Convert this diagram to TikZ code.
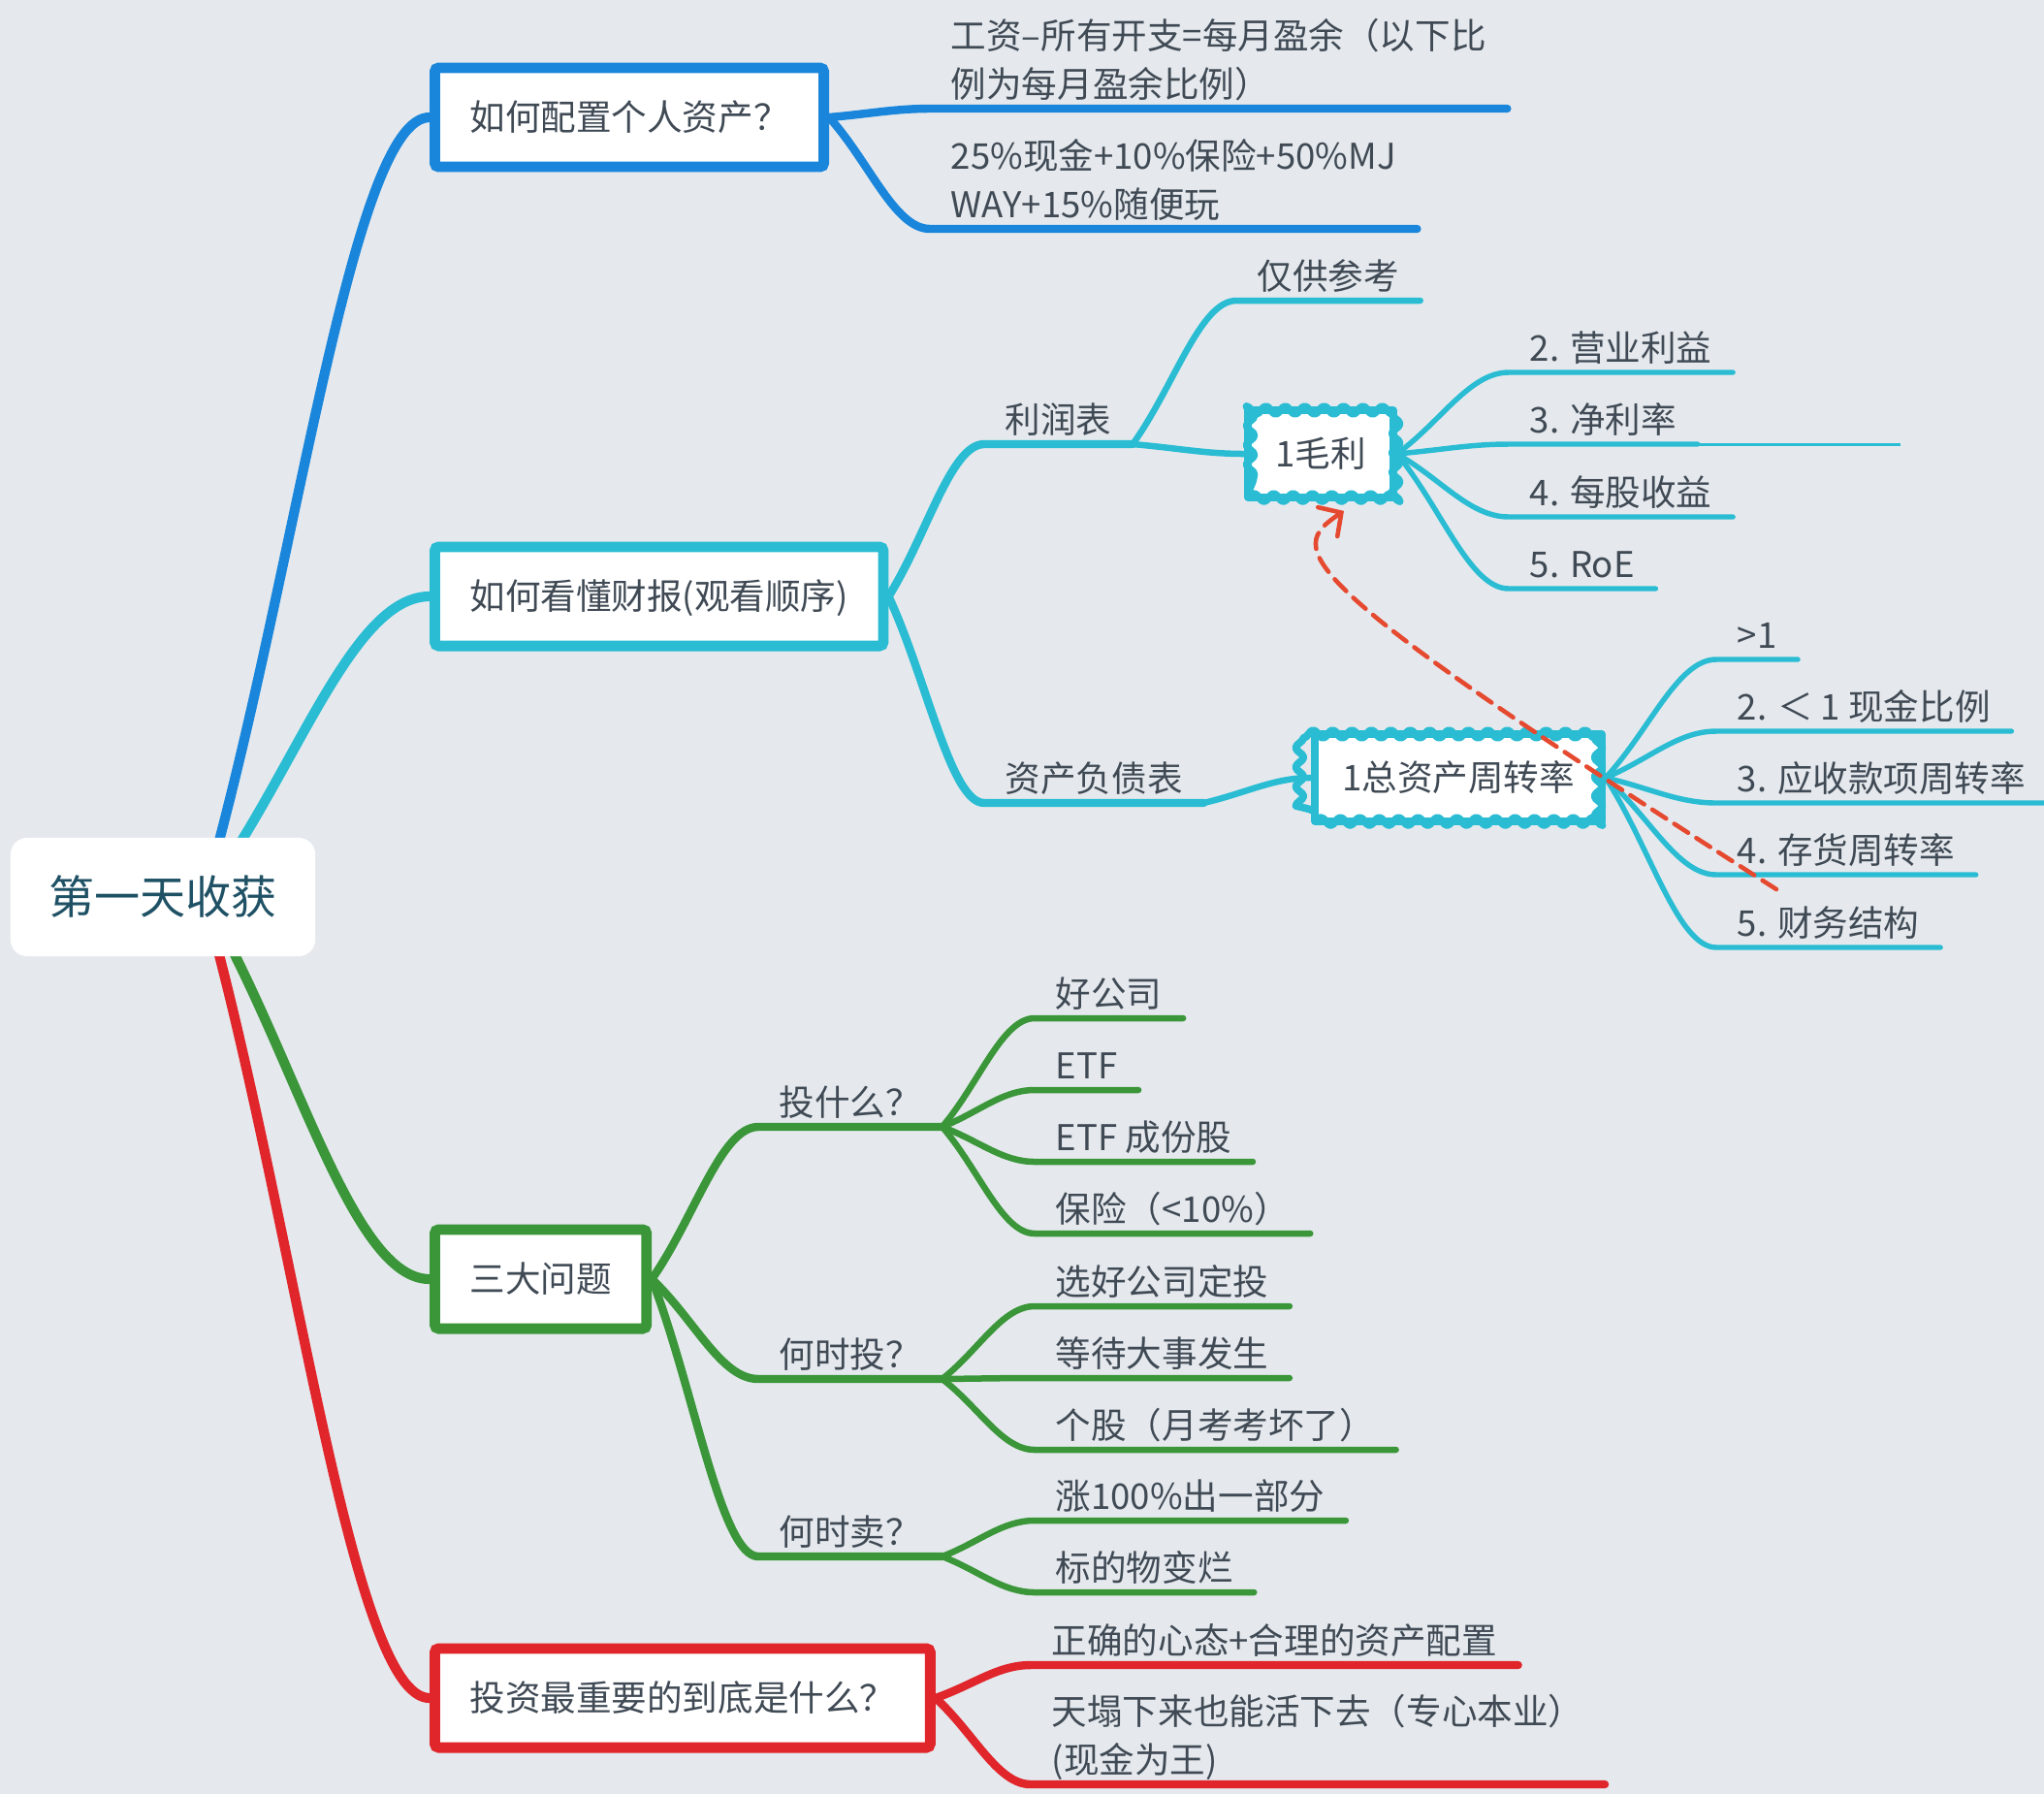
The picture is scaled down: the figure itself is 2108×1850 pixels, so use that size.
\documentclass[tikz,border=0pt]{standalone}
\usepackage{fontspec}
\setmainfont{Noto Sans CJK SC}
\usepackage{tikz}
\usetikzlibrary{arrows.meta,calc,decorations.pathmorphing}
\usepackage{xcolor}
\definecolor{paperbg}{HTML}{E5E9ED}
\definecolor{ink}{HTML}{404A55}
\definecolor{rootink}{HTML}{1F5165}
\definecolor{mblue}{HTML}{1A86DB}
\definecolor{mcyan}{HTML}{2ABCD3}
\definecolor{mgreen}{HTML}{3A9639}
\definecolor{mred}{HTML}{E0252B}
\definecolor{relred}{HTML}{E5492F}
\pgfdeclarelayer{paper}
\pgfdeclarelayer{wires}
\pgfsetlayers{paper,wires,main}

\begin{document}
\begin{tikzpicture}[x=0.01cm, y=-0.01cm, every node/.style={font=\fontsize{10.4}{14.2}\selectfont, text=ink}]
\tikzset{root/.style={fill=white, rounded corners=0.17cm, minimum width=3.14cm, minimum height=1.22cm, font=\fontsize{13.4}{16}\selectfont, text=rootink}}
\tikzset{topic/.style={draw, fill=white, line width=3.1pt, rounded corners=0.04cm, inner xsep=0.36cm, minimum height=1.02cm, text height=0.88em, text depth=0.12em, anchor=west}}
\tikzset{leaf/.style={inner xsep=0.21cm, inner ysep=0pt, text depth=0.3em, anchor=south west}}
\tikzset{bubble/.style={draw=mcyan, fill=white, line width=2.2pt, inner xsep=0.28cm, minimum height=0.9cm, text height=0.88em, text depth=0.12em, line join=round,
  postaction={draw=mcyan, line width=2.2pt, decorate, decoration={snake, segment length=0.2cm, amplitude=0.04cm}}}}
\tikzset{curvy/.style={to path={let \p1=(\tikztostart), \p2=(\tikztotarget) in .. controls ($(\p1)!0.4!(\p2)$) and ({\x1+0.65*(\x2-\x1)},\y2) .. (\p2) \tikztonodes}}}
\tikzset{l1/.style={line width=2.9pt, line cap=round, line join=round}}
\tikzset{l2/.style={line width=2.4pt, line cap=round, line join=round}}
\tikzset{l3/.style={line width=1.85pt, line cap=round, line join=round}}
\tikzset{l4/.style={line width=1.55pt, line cap=round, line join=round}}
\tikzset{rel/.style={relred, line width=1.3pt, line cap=round, dash pattern=on 0.17cm off 0.1cm, -{Straight Barb[length=0.17cm, width=0.36cm, line cap=round]}}}

\useasboundingbox (0,0) rectangle (2108,1850);
\begin{pgfonlayer}{paper}
\fill[paperbg] (0,0) rectangle (2108,1850);
\end{pgfonlayer}

% centre
\node[root] (root) at (168,925) {第一天收获};
\coordinate (hub) at (210,925);

% main topics
\node[topic, draw=mblue] (plan) at (443,121) {如何配置个人资产？};
\node[topic, draw=mcyan] (report) at (443,615) {如何看懂财报(观看顺序)};
\node[topic, draw=mgreen] (three) at (443,1319) {三大问题};
\node[topic, draw=mred] (core) at (443,1751) {投资最重要的到底是什么？};

% assets
\node[leaf, align=left] (surplus) at (959,112) {工资–所有开支=每月盈余（以下比\\例为每月盈余比例）};
\node[leaf, align=left] (ratio) at (959,236) {25\%现金+10\%保险+50\%MJ\\WAY+15\%随便玩};

% reports
\node[leaf] (income) at (1015,458) {利润表};
\node[leaf] (refonly) at (1275,310) {仅供参考};
\node[bubble] (gross) at (1362,468) {1毛利};
\node[leaf] (g2) at (1556,384) {2. 营业利益};
\node[leaf] (g3) at (1556,458) {3. 净利率};
\coordinate (g3tail) at (1960,458);
\node[leaf] (g4) at (1556,533) {4. 每股收益};
\node[leaf] (g5) at (1556,607) {5. RoE};
\node[leaf] (balance) at (1015,828) {资产负债表};
\node[bubble] (turn) at (1504,802) {1总资产周转率};
\node[leaf] (t1) at (1770,680) {>1};
\node[leaf] (t2) at (1770,754) {2. ＜ 1 现金比例};
\node[leaf] (t3) at (1770,828) {3. 应收款项周转率};
\node[leaf] (t4) at (1770,902) {4. 存货周转率};
\node[leaf] (t5) at (1770,977) {5. 财务结构};

% three questions
\node[leaf] (what) at (782,1162) {投什么？};
\node[leaf] (w1) at (1067,1050) {好公司};
\node[leaf] (w2) at (1067,1124) {ETF};
\node[leaf] (w3) at (1067,1198) {ETF 成份股};
\node[leaf] (w4) at (1067,1272) {保险（<10\%）};
\node[leaf] (when) at (782,1422) {何时投？};
\node[leaf] (n1) at (1067,1347) {选好公司定投};
\node[leaf] (n2) at (1067,1421) {等待大事发生};
\node[leaf] (n3) at (1067,1495) {个股（月考考坏了）};
\node[leaf] (sell) at (782,1605) {何时卖？};
\node[leaf] (s1) at (1067,1568) {涨100\%出一部分};
\node[leaf] (s2) at (1067,1642) {标的物变烂};

% what matters
\node[leaf] (mind) at (1063,1717) {正确的心态+合理的资产配置};
\node[leaf, align=left] (survive) at (1063,1840) {天塌下来也能活下去（专心本业）\\(现金为王)};

\begin{pgfonlayer}{wires}
\draw[l1, mblue] (hub) to[curvy] (plan.west);
\draw[l1, mcyan] (hub) to[curvy] (report.west);
\draw[l1, mgreen] (hub) to[curvy] (three.west);
\draw[l1, mred] (hub) to[curvy] (core.west);
\draw[l2, mblue] (plan.east) to[curvy] (surplus.south west) -- (surplus.south east);
\draw[l2, mblue] (plan.east) to[curvy] (ratio.south west) -- (ratio.south east);
\draw[l2, mcyan] (report.east) to[curvy] (income.south west) -- (income.south east);
\draw[l2, mcyan] (report.east) to[curvy] (balance.south west) -- (balance.south east);
\draw[l3, mcyan] (income.south east) to[curvy] (refonly.south west) -- (refonly.south east);
\draw[l3, mcyan] (income.south east) to[curvy] (gross.west);
\draw[l3, mcyan] (balance.south east) to[curvy] (turn.west);
\foreach \k in {g2,g3,g4,g5}
  \draw[l4, mcyan] (gross.east) to[curvy] (\k.south west) -- (\k.south east);
\draw[mcyan, line width=0.85pt] (g3.south east) -- (g3tail);
\foreach \k in {t1,t2,t3,t4,t5}
  \draw[l4, mcyan] (turn.east) to[curvy] (\k.south west) -- (\k.south east);
\draw[l2, mgreen] (three.east) to[curvy] (what.south west) -- (what.south east);
\draw[l2, mgreen] (three.east) to[curvy] (when.south west) -- (when.south east);
\draw[l2, mgreen] (three.east) to[curvy] (sell.south west) -- (sell.south east);
\foreach \k in {w1,w2,w3,w4}
  \draw[l3, mgreen] (what.south east) to[curvy] (\k.south west) -- (\k.south east);
\foreach \k in {n1,n2,n3}
  \draw[l3, mgreen] (when.south east) to[curvy] (\k.south west) -- (\k.south east);
\foreach \k in {s1,s2}
  \draw[l3, mgreen] (sell.south east) to[curvy] (\k.south west) -- (\k.south east);
\draw[l2, mred] (core.east) to[curvy] (mind.south west) -- (mind.south east);
\draw[l2, mred] (core.east) to[curvy] (survive.south west) -- (survive.south east);
\end{pgfonlayer}

% relation
\draw[rel] ($(t4.south west)+(62,15)$) .. controls (1323,593) and (1326,567) .. ($(gross.south)+(24,10)$);
\end{tikzpicture}
\end{document}
